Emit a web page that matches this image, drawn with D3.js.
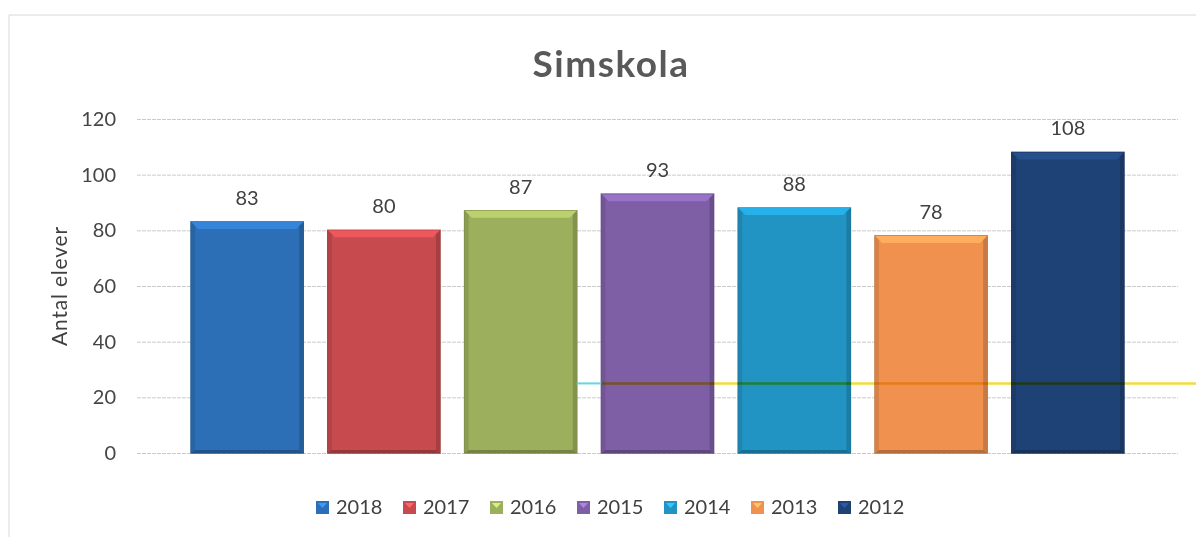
<html>
<head>
<meta charset="utf-8">
<script src="https://cdn.jsdelivr.net/npm/d3@7"></script>
<style>
  body { margin: 0; background: #fff; }
  text { font-family: Lato, "Open Sans", sans-serif; }
</style>
</head>
<body>
<svg id="chart" width="1196" height="537"></svg>
<script>
    // data
    const years = ['2018', '2017', '2016', '2015', '2014', '2013', '2012']
    const values = [83, 80, 87, 93, 88, 78, 108]
    const colors = ['#2c6fb6', '#c64a4e', '#9caf5c', '#7e5fa6', '#2194c4', '#f0914f', '#1f4276']
    const yTicks = [0, 20, 40, 60, 80, 100, 120]
    const refValue = 25 // the faint yellow line across the right half

    const svg = d3.select('#chart')

    const x = d3.scaleBand()
        .domain(years)
        .range([137, 1178])
        .paddingInner(0.18)
        .paddingOuter(0.395)

    const y = d3.scaleLinear().domain([0, 120]).range([453, 119])

    // outer frame of the chart (light, like the scan)
    svg.append('path')
        .attr('d', 'M9,537 V15 H1196')
        .attr('fill', 'none')
        .attr('stroke', '#d8d8d8')
        .attr('stroke-width', 1)

    // title
    svg.append('text')
        .attr('x', 611).attr('y', 77)
        .attr('text-anchor', 'middle')
        .attr('font-size', 37)
        .attr('font-weight', 700)
        .attr('letter-spacing', 1.5)
        .attr('fill', '#595959')
        .text('Simskola')

    // gridlines + tick labels
    const yAxis = d3.axisLeft(y).tickValues(yTicks).tickSize(-(1178 - 137)).tickPadding(21)
    const gAxis = svg.append('g').attr('transform', 'translate(137,0)').call(yAxis)
    gAxis.select('.domain').remove()
    gAxis.selectAll('.tick line')
        .attr('stroke', '#cacaca')
        .attr('stroke-dasharray', '4,1')
    gAxis.selectAll('.tick text')
        .attr('font-size', 20)
        .attr('fill', '#454545')
        .style('font-family', 'Lato, "Open Sans", sans-serif')

    svg.append('text')
        .attr('transform', 'translate(67,' + y(60) + ') rotate(-90)')
        .attr('text-anchor', 'middle')
        .attr('font-size', 21)
        .attr('letter-spacing', 0.8)
        .attr('fill', '#404040')
        .text('Antal elever')

    const barData = years.map((yr, i) => ({ year: yr, value: values[i], color: colors[i] }))

    // bars with a bevel look
    const bars = svg.selectAll('.bar').data(barData).enter().append('g').attr('class', 'bar')
    const bev = 7

    bars.append('rect')
        .attr('x', d => x(d.year))
        .attr('y', d => y(d.value))
        .attr('width', x.bandwidth())
        .attr('height', d => y(0) - y(d.value))
        .attr('fill', d => d.color)
        .attr('stroke', d => d3.color(d.color).darker(0.6))
        .attr('stroke-width', 1.5)

    // top bevel (lighter)
    bars.append('path')
        .attr('d', d => {
            const x0 = x(d.year), x1 = x0 + x.bandwidth(), t = y(d.value)
            return `M${x0},${t} L${x1},${t} L${x1 - bev},${t + bev} L${x0 + bev},${t + bev} Z`
        })
        .attr('fill', d => d3.color(d.color).brighter(0.5))
    // side bevels
    bars.append('path')
        .attr('d', d => {
            const x0 = x(d.year), t = y(d.value), b = y(0)
            return `M${x0},${t} L${x0 + 4},${t + 4} L${x0 + 4},${b - 3} L${x0},${b} Z`
        })
        .attr('fill', d => d3.color(d.color).darker(0.3))
    bars.append('path')
        .attr('d', d => {
            const x1 = x(d.year) + x.bandwidth(), t = y(d.value), b = y(0)
            return `M${x1},${t} L${x1 - 4},${t + 4} L${x1 - 4},${b - 3} L${x1},${b} Z`
        })
        .attr('fill', d => d3.color(d.color).darker(0.5))
    bars.append('path')
        .attr('d', d => {
            const x0 = x(d.year), x1 = x0 + x.bandwidth(), b = y(0)
            return `M${x0},${b} L${x1},${b} L${x1 - 4},${b - 3} L${x0 + 4},${b - 3} Z`
        })
        .attr('fill', d => d3.color(d.color).darker(0.8))

    // value labels
    bars.append('text')
        .attr('x', d => x(d.year) + x.bandwidth() / 2)
        .attr('y', d => y(d.value) - 17)
        .attr('text-anchor', 'middle')
        .attr('font-size', 20)
        .attr('fill', '#404040')
        .text(d => d.value)

    // stray reference line from the scan
    svg.append('line')
        .attr('x1', x('2016') + x.bandwidth()).attr('x2', x('2015'))
        .attr('y1', y(refValue)).attr('y2', y(refValue))
        .attr('stroke', '#5fd6e0').attr('stroke-width', 2)
    svg.append('line')
        .attr('x1', x('2015')).attr('x2', 1196)
        .attr('y1', y(refValue)).attr('y2', y(refValue))
        .attr('stroke', '#f2dc3a').attr('stroke-width', 2.5)
        .style('mix-blend-mode', 'multiply')

    // legend
    const legend = svg.append('g').attr('transform', 'translate(316,507)')
    let lx = 0
    barData.forEach(d => {
        const item = legend.append('g').attr('transform', `translate(${lx},0)`)
        item.append('rect')
            .attr('x', 0).attr('y', -6).attr('width', 13).attr('height', 13)
            .attr('fill', d.color)
        item.append('path')
            .attr('d', 'M2,-4 L11,-4 L6.5,1 Z')
            .attr('fill', d3.color(d.color).brighter(0.9))
        item.append('text')
            .attr('x', 20).attr('y', 7)
            .attr('font-size', 20)
            .attr('fill', '#404040')
            .text(d.year)
        lx += 87
    })
</script>
</body>
</html>
